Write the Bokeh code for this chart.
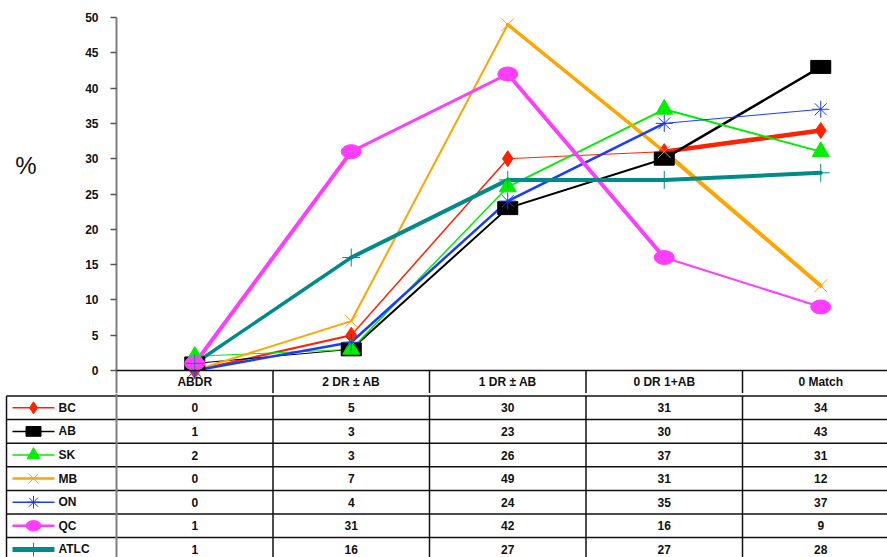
from bokeh.plotting import figure
from bokeh.models import Range1d, LinearAxis, FixedTicker, Span
from bokeh.layouts import column
from bokeh.embed import file_html
from bokeh.resources import INLINE
from bokeh.core.properties import value

# ---------------- data ----------------
categories = ["ABDR", "2 DR ± AB", "1 DR ± AB", "0 DR 1+AB", "0 Match"]
series_names = ["BC", "AB", "SK", "MB", "ON", "QC", "ATLC"]
bc = [0, 5, 30, 31, 34]
ab = [1, 3, 23, 30, 43]
sk = [2, 3, 26, 37, 31]
mb = [0, 7, 49, 31, 12]
on = [0, 4, 24, 35, 37]
qc = [1, 31, 42, 16, 9]
atlc = [1, 16, 27, 27, 28]
y_ticks = [0, 5, 10, 15, 20, 25, 30, 35, 40, 45, 50]
y_label = "%"

series_values = [bc, ab, sk, mb, on, qc, atlc]

# ---------------- styles ----------------
# seg: per-segment line widths (rendering style of the original), leg: legend line width
styles = {
    "BC":   dict(color="#FF2200", seg=[2, 1.5, 1, 4.5], leg=1.5, marker="diamond",  size=16),
    "AB":   dict(color="#000000", seg=[1, 2, 2, 2.5],   leg=1.5, marker="rect",     size=16),
    "SK":   dict(color="#00EE00", seg=[1, 1.5, 2, 2],   leg=1.5, marker="triangle", size=17),
    "MB":   dict(color="#FFA500", seg=[2, 2, 3.5, 4],   leg=2.5, marker="x",        size=18),
    "ON":   dict(color="#1A3CFF", seg=[2.5, 2.5, 2.5, 1], leg=1.5, marker="asterisk", size=17),
    "QC":   dict(color="#FF3DFF", seg=[4, 3, 4, 2],     leg=2.5, marker="ellipse",  size=16),
    "ATLC": dict(color="#008B8B", seg=[3.5, 4, 4, 4],   leg=5,   marker="cross",    size=18),
}
FONT = "Liberation Sans"

W = 887
PLOT_LEFT = 116
COL_W = 156.5
TOP = 17
ZERO_PX = 370
SPLIT_PX = 393
PX_PER_UNIT = (ZERO_PX - TOP) / 50.0
ROW_TOP_PX = 395.5
ROW_H = 23.6
H = 557
LABEL_Y_PX = 165

x_end = (W - PLOT_LEFT) / COL_W
x_start_full = -PLOT_LEFT / COL_W
xc = [i + 0.5 for i in range(len(categories))]


def draw_marker(fig, xs, ys, s, scale=1.0):
    m = s["marker"]
    c = s["color"]
    if m == "rect":
        fig.rect(xs, ys, width=20 * scale, height=13 * scale, width_units="screen",
                 height_units="screen", fill_color=c, line_color=c)
    elif m == "ellipse":
        fig.ellipse(xs, ys, width=20 * scale, height=14 * scale, width_units="screen",
                    height_units="screen", fill_color=c, line_color=c)
    else:
        fig.scatter(xs, ys, marker=m, size=s["size"] * scale, fill_color=c, line_color=c,
                    line_width=1)


# ---------------- top chart ----------------
y_bottom = -(SPLIT_PX - ZERO_PX) / PX_PER_UNIT
p = figure(width=W, height=SPLIT_PX, output_backend="svg", toolbar_location=None,
           x_range=Range1d(0, x_end), y_range=Range1d(y_bottom, 50),
           x_axis_location=None, y_axis_location=None,
           min_border_left=PLOT_LEFT, min_border_right=0, min_border_top=TOP,
           min_border_bottom=0, frame_align=False)
p.outline_line_color = None
p.xgrid.visible = False
p.ygrid.visible = False
p.background_fill_color = "white"

yaxis = LinearAxis(ticker=FixedTicker(ticks=y_ticks), bounds=(y_bottom, 50))
yaxis.axis_line_color = "#7F7F7F"
yaxis.axis_line_width = 2
yaxis.major_tick_out = 6
yaxis.major_tick_in = 0
yaxis.major_tick_line_color = "#555555"
yaxis.major_tick_line_width = 1.5
yaxis.minor_tick_line_color = None
yaxis.major_label_text_font = FONT
yaxis.major_label_text_font_style = "bold"
yaxis.major_label_text_font_size = "12px"
yaxis.major_label_text_color = "#111111"
yaxis.major_label_standoff = 12
p.add_layout(yaxis, "left")

# "%" title as a horizontal label on an outer, line-less axis
label_pos = (ZERO_PX - LABEL_Y_PX) / PX_PER_UNIT
laxis = LinearAxis(ticker=FixedTicker(ticks=[label_pos]),
                   major_label_overrides={label_pos: y_label})
laxis.axis_line_color = None
laxis.major_tick_line_color = None
laxis.minor_tick_line_color = None
laxis.major_tick_out = 0
laxis.major_tick_in = 0
laxis.major_label_standoff = 46
laxis.major_label_text_font = FONT
laxis.major_label_text_font_size = "24px"
laxis.major_label_text_color = "#111111"
p.add_layout(laxis, "left")

p.add_layout(Span(location=0, dimension="width", line_color="#111111", line_width=1.5))
# header row column separators
p.segment(x0=[1, 2, 3, 4], y0=[y_bottom] * 4, x1=[1, 2, 3, 4], y1=[0] * 4,
          line_color="#111111", line_width=1.5)
p.text(x=xc, y=[-(381 - ZERO_PX) / PX_PER_UNIT] * 5, text=categories,
       text_align="center", text_baseline="middle", text_font=value(FONT),
       text_font_style="bold", text_font_size="12px", text_color="#111111")

for name, vals in zip(series_names, series_values):
    s = styles[name]
    p.segment(x0=xc[:-1], y0=vals[:-1], x1=xc[1:], y1=vals[1:], line_color=s["color"],
              line_width=s["seg"], line_cap="round")
for name, vals in zip(series_names, series_values):
    draw_marker(p, xc, vals, styles[name])

# ---------------- table ----------------
tb_h = H - SPLIT_PX
row_off = (ROW_TOP_PX - SPLIT_PX) / ROW_H
t = figure(width=W, height=tb_h, output_backend="svg", toolbar_location=None,
           x_range=Range1d(x_start_full, x_end),
           y_range=Range1d(tb_h / ROW_H - row_off, -row_off),
           x_axis_location=None, y_axis_location=None, min_border=0,
           min_border_left=0, min_border_right=0, min_border_top=0, min_border_bottom=0,
           frame_align=False)
t.outline_line_color = None
t.xgrid.visible = False
t.ygrid.visible = False

left_edge = (6 - PLOT_LEFT) / COL_W
nrows = len(series_names)
y_lo = tb_h / ROW_H
# horizontal lines
t.segment(x0=[left_edge] * nrows, y0=list(range(nrows)), x1=[x_end] * nrows,
          y1=list(range(nrows)), line_color="#111111", line_width=1.5)
# vertical lines
t.segment(x0=[left_edge, 1, 2, 3, 4], y0=[0] * 5, x1=[left_edge, 1, 2, 3, 4], y1=[y_lo] * 5,
          line_color="#111111", line_width=1.5)
t.segment(x0=[0], y0=[-row_off], x1=[0], y1=[y_lo], line_color="#7F7F7F", line_width=2)

lx0 = (12 - PLOT_LEFT) / COL_W
lx1 = (54 - PLOT_LEFT) / COL_W
lxm = (33 - PLOT_LEFT) / COL_W
ltx = (58 - PLOT_LEFT) / COL_W
for i, (name, vals) in enumerate(zip(series_names, series_values)):
    s = styles[name]
    yc = i + 0.5
    t.line([lx0, lx1], [yc, yc], line_color=s["color"], line_width=s["leg"])
    draw_marker(t, [lxm], [yc], s, scale=0.75)
    t.text(x=[ltx], y=[yc], text=[name], text_align="left", text_baseline="middle",
           text_font=value(FONT), text_font_style="bold", text_font_size="12px",
           text_color="#111111")
    t.text(x=xc, y=[yc] * len(vals), text=[str(v) for v in vals], text_align="center",
           text_baseline="middle", text_font=value(FONT), text_font_style="bold",
           text_font_size="12px", text_color="#111111")

layout = column(p, t, spacing=0)
open("out.html", "w").write(file_html(layout, INLINE))
